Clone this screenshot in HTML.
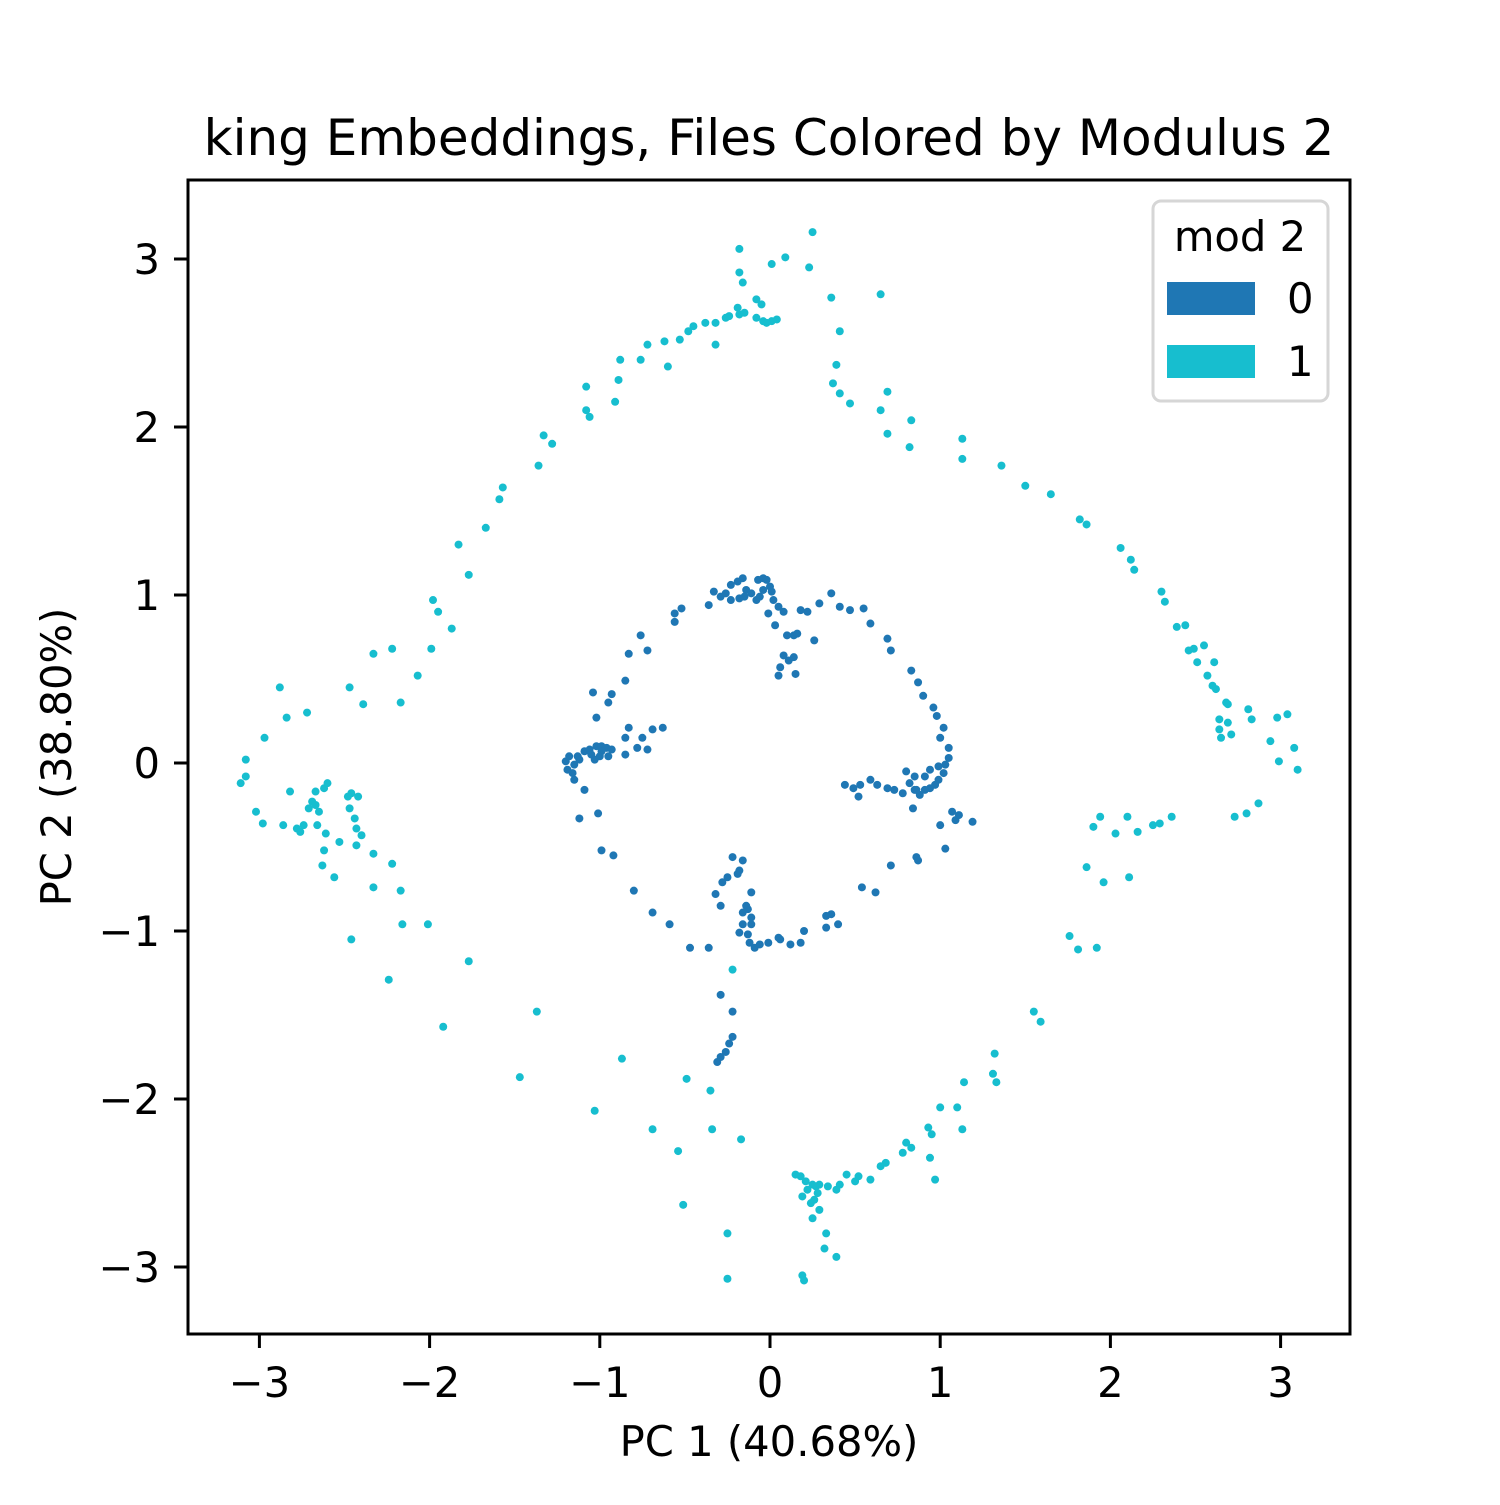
<!DOCTYPE html>
<html><head><meta charset="utf-8"><style>
html,body{margin:0;padding:0;background:#fff;}
svg text{font-family:"DejaVu Sans","Liberation Sans",sans-serif;fill:#000;}
</style></head><body>
<svg id="chart" width="1500" height="1500" viewBox="0 0 1500 1500" xmlns="http://www.w3.org/2000/svg">
<rect width="1500" height="1500" fill="#fff"/>
<text x="769" y="155" font-size="50" text-anchor="middle">king Embeddings, Files Colored by Modulus 2</text>
<g id="points"></g>
<rect x="188" y="180" width="1162" height="1154" fill="none" stroke="#000" stroke-width="3"/>
<g id="ticks"></g>
<text x="769" y="1456" font-size="41.7" text-anchor="middle">PC 1 (40.68%)</text>
<text transform="translate(71,757) rotate(-90)" font-size="41.7" text-anchor="middle">PC 2 (38.80%)</text>
<g>
<rect x="1153" y="201" width="175" height="200" rx="8" fill="#fff" stroke="#d6d6d6" stroke-width="3"/>
<text x="1240" y="251" font-size="41.7" text-anchor="middle">mod 2</text>
<rect x="1167" y="282" width="88" height="33" fill="#1f77b4"/>
<text x="1287" y="313" font-size="41.7">0</text>
<rect x="1167" y="345" width="88" height="33" fill="#17becf"/>
<text x="1287" y="376" font-size="41.7">1</text>
</g>
</svg>
<script>
const xTicks = [-3,-2,-1,0,1,2,3];
const yTicks = [-3,-2,-1,0,1,2,3];
const tickLabels = ['\u22123','\u22122','\u22121','0','1','2','3'];
const cyanX = [-0.18,-0.18,-0.16,0.01,0.09,0.23,0.25,0.36,0.65,0.41,0.39,0.37,0.41,0.47,0.69,0.65,0.83,0.69,0.82,1.13,1.13,1.36,1.50,1.65,1.82,1.86,2.06,2.12,2.14,2.30,2.32,2.39,2.44,2.46,2.49,2.55,2.51,2.61,2.57,2.60,2.62,2.68,2.69,2.64,2.69,2.64,2.65,2.71,2.81,2.83,2.98,3.04,2.94,3.08,2.99,3.10,2.87,2.80,2.73,2.36,2.29,2.25,2.16,2.10,2.03,1.94,1.90,1.86,1.96,2.11,1.76,1.81,1.92,1.55,1.59,1.32,1.31,1.33,1.14,1.10,1.00,0.93,0.95,1.13,0.83,0.78,0.80,0.94,0.97,0.68,0.65,0.59,0.52,0.50,0.41,0.45,0.39,0.34,0.27,0.29,0.25,0.18,0.15,0.21,0.22,0.28,0.26,0.19,0.24,0.29,0.25,0.33,0.32,0.39,0.19,0.20,-0.25,-0.25,-0.17,-0.34,-0.35,-0.49,-0.51,-0.54,-0.69,-0.87,-1.03,-1.47,-1.37,-1.92,-1.77,-2.24,-2.17,-2.33,-2.22,-2.33,-2.01,-2.16,-2.46,-2.43,-2.40,-2.43,-2.44,-2.47,-2.46,-2.42,-2.48,-2.53,-2.62,-2.61,-2.56,-2.63,-2.66,-2.65,-2.69,-2.67,-2.62,-2.60,-2.67,-2.71,-2.74,-2.78,-2.76,-2.86,-2.82,-2.98,-3.02,-3.11,-3.08,-3.08,-2.97,-2.84,-2.72,-2.88,-2.47,-2.39,-2.33,-2.22,-2.17,-2.07,-1.99,-1.87,-1.98,-1.95,-1.83,-1.77,-1.67,-1.59,-1.57,-1.36,-1.33,-1.28,-1.06,-1.08,-1.08,-0.91,-0.89,-0.88,-0.76,-0.72,-0.60,-0.62,-0.53,-0.48,-0.45,-0.38,-0.32,-0.32,-0.26,-0.24,-0.19,-0.18,-0.15,-0.08,-0.05,-0.08,-0.04,0.01,0.04,-0.02,-0.22];
const cyanY = [3.06,2.92,2.86,2.97,3.01,2.95,3.16,2.77,2.79,2.57,2.37,2.26,2.20,2.14,2.21,2.10,2.04,1.96,1.88,1.93,1.81,1.77,1.65,1.60,1.45,1.42,1.28,1.21,1.15,1.02,0.96,0.81,0.82,0.67,0.68,0.70,0.60,0.60,0.52,0.46,0.44,0.36,0.35,0.26,0.24,0.20,0.15,0.17,0.32,0.26,0.27,0.29,0.13,0.09,0.01,-0.04,-0.24,-0.30,-0.32,-0.32,-0.36,-0.37,-0.41,-0.32,-0.42,-0.32,-0.38,-0.62,-0.71,-0.68,-1.03,-1.11,-1.10,-1.48,-1.54,-1.73,-1.85,-1.90,-1.90,-2.05,-2.05,-2.17,-2.21,-2.18,-2.29,-2.32,-2.26,-2.35,-2.48,-2.38,-2.40,-2.48,-2.46,-2.49,-2.51,-2.45,-2.54,-2.52,-2.52,-2.51,-2.51,-2.46,-2.45,-2.49,-2.54,-2.56,-2.60,-2.58,-2.62,-2.66,-2.71,-2.80,-2.89,-2.94,-3.05,-3.08,-2.80,-3.07,-2.24,-2.18,-1.95,-1.88,-2.63,-2.31,-2.18,-1.76,-2.07,-1.87,-1.48,-1.57,-1.18,-1.29,-0.76,-0.74,-0.60,-0.54,-0.96,-0.96,-1.05,-0.49,-0.43,-0.39,-0.33,-0.27,-0.18,-0.20,-0.20,-0.47,-0.52,-0.42,-0.68,-0.61,-0.37,-0.29,-0.23,-0.17,-0.15,-0.12,-0.25,-0.27,-0.37,-0.39,-0.41,-0.37,-0.17,-0.36,-0.29,-0.12,-0.08,0.02,0.15,0.27,0.30,0.45,0.45,0.35,0.65,0.68,0.36,0.52,0.68,0.80,0.97,0.90,1.30,1.12,1.40,1.57,1.64,1.77,1.95,1.90,2.06,2.10,2.24,2.15,2.28,2.40,2.40,2.49,2.36,2.51,2.52,2.57,2.60,2.62,2.49,2.62,2.65,2.66,2.71,2.67,2.68,2.76,2.73,2.65,2.63,2.63,2.64,2.62,-1.23];
const blueX = [-0.23,-0.19,-0.16,-0.14,-0.15,-0.11,-0.08,-0.06,-0.04,-0.07,-0.04,-0.02,0.00,0.01,0.02,0.05,0.08,-0.01,0.03,0.10,0.14,0.16,0.08,0.11,0.14,0.15,0.05,0.06,0.26,0.18,0.22,0.29,0.36,0.41,0.47,0.55,0.59,0.69,0.71,0.83,0.87,0.90,0.96,0.98,1.00,1.02,1.05,1.05,1.03,1.02,0.99,0.97,0.94,0.91,0.88,0.85,0.82,0.85,0.80,0.94,0.99,0.91,0.86,0.78,0.73,0.69,0.63,0.59,0.53,0.49,0.44,0.52,0.84,1.00,1.07,1.09,1.11,1.19,1.03,0.86,0.87,0.71,0.62,0.54,0.40,0.36,0.33,0.33,0.20,0.18,0.12,0.06,0.05,-0.01,-0.06,-0.09,-0.12,-0.13,-0.16,-0.18,-0.11,-0.11,-0.13,-0.14,-0.16,-0.11,-0.19,-0.25,-0.28,-0.32,-0.29,-0.16,-0.22,-0.18,-0.47,-0.59,-0.69,-0.80,-0.92,-0.99,-0.36,-0.29,-0.22,-0.22,-0.24,-0.26,-0.29,-0.31,-1.01,-1.12,-1.09,-1.15,-1.16,-1.20,-1.18,-1.19,-1.13,-1.09,-1.06,-1.02,-0.99,-0.96,-0.95,-0.93,-1.00,-1.03,-1.05,-1.12,-1.15,-1.04,-1.02,-0.99,-0.85,-0.85,-0.83,-0.78,-0.75,-0.72,-0.69,-0.63,-0.93,-0.95,-0.85,-0.83,-0.72,-0.76,-0.56,-0.56,-0.52,-0.36,-0.33,-0.29,-0.26,-0.23,-0.18];
const blueY = [1.06,1.08,1.10,1.03,0.99,1.01,0.97,0.99,1.03,1.09,1.10,1.09,1.05,1.02,0.97,0.93,0.90,0.89,0.82,0.76,0.76,0.77,0.64,0.61,0.63,0.53,0.52,0.57,0.73,0.91,0.90,0.95,1.01,0.93,0.91,0.92,0.83,0.74,0.67,0.55,0.48,0.40,0.33,0.28,0.15,0.21,0.09,0.03,-0.01,-0.06,-0.10,-0.13,-0.15,-0.16,-0.19,-0.16,-0.12,-0.08,-0.05,-0.04,-0.02,-0.08,-0.16,-0.18,-0.16,-0.15,-0.13,-0.10,-0.13,-0.15,-0.13,-0.20,-0.27,-0.37,-0.29,-0.34,-0.31,-0.35,-0.51,-0.56,-0.58,-0.61,-0.77,-0.74,-0.96,-0.90,-0.91,-0.98,-1.00,-1.07,-1.08,-1.05,-1.04,-1.07,-1.08,-1.10,-1.07,-1.02,-0.96,-1.01,-0.96,-0.92,-0.87,-0.85,-0.89,-0.77,-0.66,-0.68,-0.71,-0.78,-0.85,-0.58,-0.56,-0.64,-1.10,-0.96,-0.89,-0.76,-0.55,-0.52,-1.10,-1.38,-1.48,-1.63,-1.67,-1.72,-1.75,-1.78,-0.30,-0.33,-0.16,-0.10,-0.06,0.01,0.04,-0.04,0.04,0.07,0.08,0.10,0.10,0.09,0.04,0.08,0.04,0.02,0.05,0.02,-0.01,0.42,0.27,0.07,0.05,0.15,0.21,0.09,0.15,0.08,0.20,0.21,0.41,0.36,0.49,0.65,0.67,0.76,0.89,0.84,0.92,0.94,1.02,0.99,1.01,0.97,0.98];

const NS = 'http://www.w3.org/2000/svg';
function xScale(v){ return 770 + v * 170.2; }
function yScale(v){ return 763 - v * 168; }

const pts = document.getElementById('points');
function drawSeries(xs, ys, color, name){
  for (let i = 0; i < xs.length; i++) {
    const c = document.createElementNS(NS, 'circle');
    c.setAttribute('cx', xScale(xs[i]));
    c.setAttribute('cy', yScale(ys[i]));
    c.setAttribute('r', 4);
    c.setAttribute('fill', color);
    
    
    pts.appendChild(c);
  }
}
drawSeries(cyanX, cyanY, '#17becf', 'point-mod-1');
drawSeries(blueX, blueY, '#1f77b4', 'point-mod-0');

const tg = document.getElementById('ticks');
xTicks.forEach((t, i) => {
  const x = xScale(t);
  const l = document.createElementNS(NS, 'line');
  l.setAttribute('x1', x); l.setAttribute('x2', x);
  l.setAttribute('y1', 1334); l.setAttribute('y2', 1348);
  l.setAttribute('stroke', '#000'); l.setAttribute('stroke-width', 3);
  
  
  tg.appendChild(l);
  const tx = document.createElementNS(NS, 'text');
  tx.setAttribute('x', x); tx.setAttribute('y', 1397);
  tx.setAttribute('font-size', '41.7');
  tx.setAttribute('text-anchor', 'middle');
  tx.textContent = tickLabels[i];
  
  
  tg.appendChild(tx);
});
yTicks.forEach((t, i) => {
  const y = yScale(t);
  const l = document.createElementNS(NS, 'line');
  l.setAttribute('x1', 174); l.setAttribute('x2', 188);
  l.setAttribute('y1', y); l.setAttribute('y2', y);
  l.setAttribute('stroke', '#000'); l.setAttribute('stroke-width', 3);
  
  
  tg.appendChild(l);
  const tx = document.createElementNS(NS, 'text');
  tx.setAttribute('x', 160); tx.setAttribute('y', y + 15);
  tx.setAttribute('font-size', '41.7');
  tx.setAttribute('text-anchor', 'end');
  tx.textContent = tickLabels[i];
  
  
  tg.appendChild(tx);
});
</script>
</body></html>
